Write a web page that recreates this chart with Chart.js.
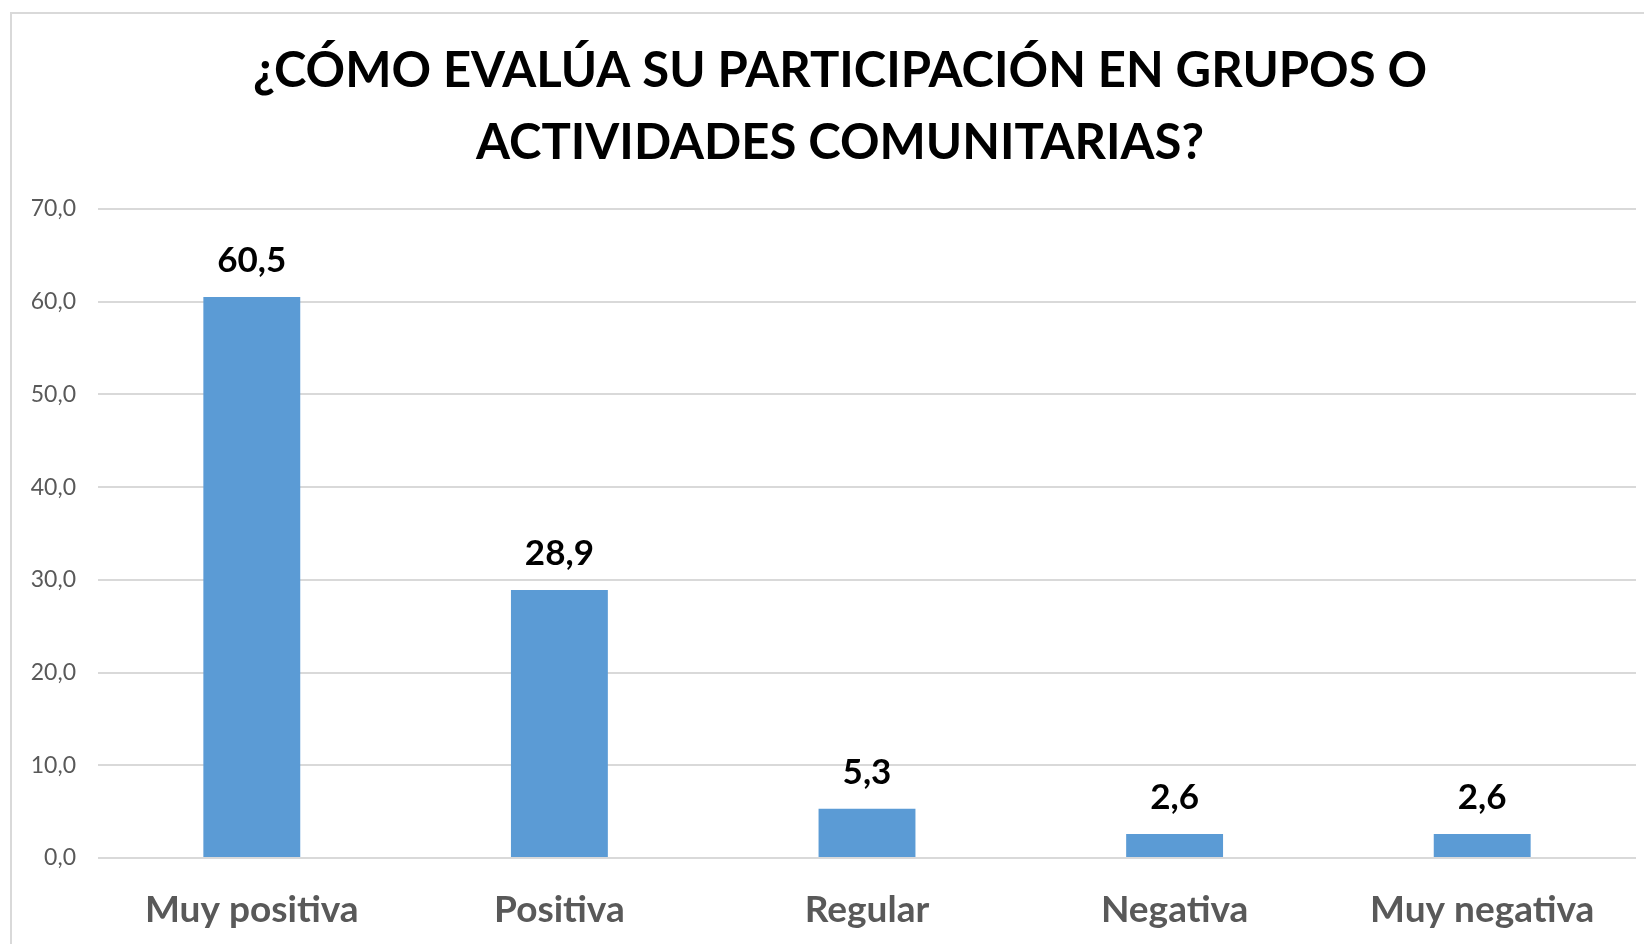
<!DOCTYPE html>
<html>
<head>
<meta charset="utf-8">
<script src="https://cdn.jsdelivr.net/npm/chart.js@4.4.1/dist/chart.umd.min.js"></script>
<style>
html,body{margin:0;padding:0;background:#fff;}
#wrap{width:1644px;height:944px;position:relative;}
</style>
</head>
<body>
<div id="wrap"><canvas id="c" width="1644" height="944"></canvas></div>
<script>
const titleLines = ['¿CÓMO EVALÚA SU PARTICIPACIÓN EN GRUPOS O', 'ACTIVIDADES COMUNITARIAS?'];
const categories = ['Muy positiva', 'Positiva', 'Regular', 'Negativa', 'Muy negativa'];
const values = [60.5, 28.9, 5.3, 2.6, 2.6];
const yMin = 0, yMax = 70, yStep = 10;

const fmt = v => v.toFixed(1).replace('.', ',');

const frame = {
  id: 'frame',
  beforeDraw(chart) {
    const ctx = chart.ctx;
    ctx.save();
    ctx.fillStyle = '#fff';
    ctx.fillRect(0, 0, chart.width, chart.height);
    ctx.strokeStyle = '#d9d9d9';
    ctx.lineWidth = 2;
    ctx.strokeRect(11, 13, 1700, 1000);
    ctx.restore();
  },
  afterDraw(chart) {
    const ctx = chart.ctx;
    ctx.save();
    ctx.font = 'bold 49px Lato';
    ctx.fillStyle = '#000';
    ctx.textAlign = 'center';
    ctx.textBaseline = 'middle';
    ctx.fillText(titleLines[0], 840, 71);
    ctx.fillText(titleLines[1], 840, 143);
    ctx.restore();
  }
};

const labels = {
  id: 'valueLabels',
  afterDatasetsDraw(chart) {
    const ctx = chart.ctx;
    const meta = chart.getDatasetMeta(0);
    ctx.save();
    ctx.font = 'bold 35px Lato';
    ctx.fillStyle = '#000';
    ctx.textAlign = 'center';
    ctx.textBaseline = 'middle';
    meta.data.forEach((el, i) => {
      ctx.fillText(fmt(values[i]), el.x, el.y - 36);
    });
    ctx.restore();
  }
};

new Chart(document.getElementById('c'), {
  type: 'bar',
  data: {
    labels: categories,
    datasets: [{
      data: values,
      backgroundColor: '#5b9bd5',
      categoryPercentage: 1,
      barPercentage: 0.315
    }]
  },
  options: {
    responsive: false,
    animation: false,
    layout: { padding: { left: 0, right: 8, top: 209, bottom: 0 } },
    plugins: {
      legend: { display: false },
      tooltip: { enabled: false },
      title: { display: false }
    },
    scales: {
      x: {
        grid: { display: false, drawTicks: false },
        border: { display: false },
        ticks: { color: '#595959', font: { family: 'Lato', weight: 'bold', size: 37 }, padding: 30 },
        afterFit(s) { s.height = 86; }
      },
      y: {
        min: yMin, max: yMax,
        grid: { color: '#d9d9d9', lineWidth: 2, drawTicks: false },
        border: { display: false },
        ticks: { stepSize: yStep, color: '#595959', font: { family: 'Lato', size: 23 }, padding: 22, callback: v => fmt(v) },
        afterFit(s) { s.width = 98; }
      }
    }
  },
  plugins: [frame, labels]
});
</script>
</body>
</html>
